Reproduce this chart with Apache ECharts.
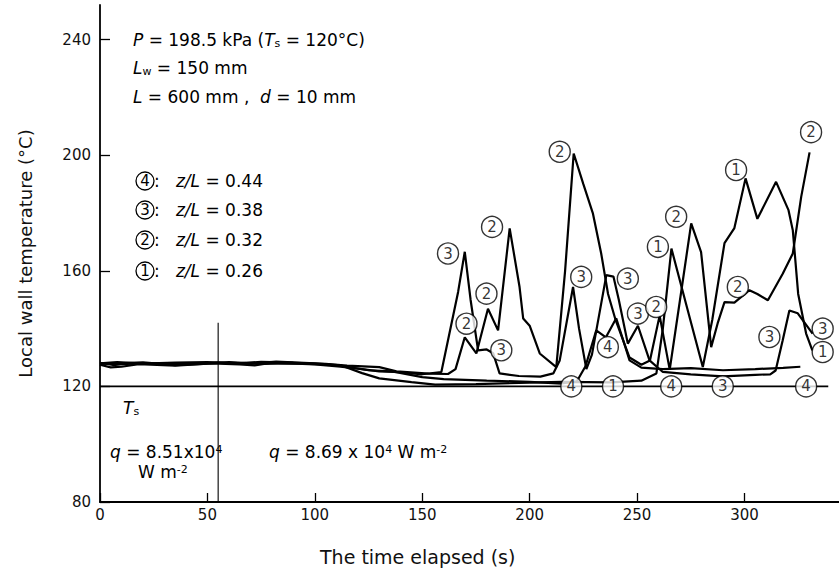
<!DOCTYPE html>
<html>
<head>
<meta charset="utf-8">
<script src="https://cdn.jsdelivr.net/npm/echarts@6/dist/echarts.min.js"></script>
<style>
html, body { margin: 0; padding: 0; background: #fff; }
#main { width: 839px; height: 574px; }
</style>
</head>
<body>
<div id="main"></div>
<script>
// wall temperature traces [time s, temp °C], one per thermocouple position
const curveZ026 = [[0,128.2],[6,127.4],[12,127.8],[25,128],[40,127.9],[55,128.3],[70,127.9],[82,128.6],[100,128],[112,127.3],[122,124.6],[130,122.8],[145,121.5],[156,120.6],[175,120.8],[195,121.2],[215,121.6],[238,121.4],[252,122],[259,124.5],[262,140],[266,167.7],[273,148],[280.6,126.7],[285,143],[290.7,169.6],[295.3,174.8],[300.5,192],[306,178],[314.7,190.8],[320.5,181],[322.5,174],[325,152],[328.7,138.3],[331.6,132.5]];
const curveZ032 = [[0,128],[8,128.4],[20,127.9],[35,128.2],[50,128.4],[62,127.9],[75,128.5],[90,128.2],[105,127.8],[115,127.2],[130,126.7],[138,125.2],[153,124.4],[162,124.3],[165.5,126],[169.8,137],[175.2,131.4],[180.6,146.9],[185.3,139.4],[190.7,174.7],[195.3,154.4],[197,143.5],[200,141],[204.7,131.4],[212.4,126.7],[216.5,160],[220.5,200.6],[225,190],[229.4,180],[233.3,166],[236.5,152],[240,143],[246.5,130],[252,127.5],[256,129],[260.5,144.5],[265.2,125.8],[270,150],[275.2,176.4],[279.8,166.5],[284.5,133.6],[287.5,141.8],[290.7,149.2],[295.3,149],[302.3,153.3],[306,152],[310.9,149.8],[317.8,159],[322.5,166],[326.4,185.6],[330.3,201]];
const curveZ038 = [[0,127.5],[5,126.6],[10,126.8],[18,127.7],[35,127.2],[52,128],[65,127.6],[72,127.3],[80,128.2],[100,127.6],[112,126.8],[122,126],[130,125.2],[140,124.9],[150,124.2],[158.9,125],[166.7,152.7],[169.8,166.6],[172.5,150],[176,132.5],[180,132.8],[183,131.5],[186,124.5],[195,123.6],[205,123.4],[211,124.5],[214,129],[220.2,154.4],[223,140],[226.4,126],[229,131],[235.7,158.5],[239,158],[241.5,150],[245.7,134.8],[250.4,141],[255.8,129],[262,125],[275,124.2],[290,123.5],[305,124],[312,124.2],[314.5,125.5],[317.8,136],[320.9,146.3],[324.8,145.3],[331.7,138.3]];
const curveZ044 = [[0,127.8],[8,128],[20,128.3],[35,127.4],[50,127.9],[60,128.4],[75,127.8],[90,128],[105,127.6],[115,126.8],[125,125.6],[136,125.2],[150,123.2],[160,122.5],[180,122],[200,121.6],[215,121],[222,121.8],[226,127],[231,139.4],[235.5,137],[240.3,143.6],[246.5,129],[252,126.5],[262,126],[275,126.3],[290,125.6],[305,126],[318,126.4],[326,126.8]];

// saturation temperature line and heat flux change
const satLine = [[0,120],[339,120]];
const fluxStep = [[55,80],[55,142]];

// circled curve numbers [time, temp, number]
const curveTags = [
  [162,166,'3'],[182.5,175.2,'2'],[179.9,152.1,'2'],[170.6,141.7,'2'],[186.8,132.5,'3'],
  [214,201.2,'2'],[224,157.9,'3'],[245.7,157.3,'3'],[236.4,133.6,'4'],[250.4,145.2,'3'],
  [258.9,147.5,'2'],[259.7,168.3,'1'],[268.2,178.7,'2'],[296.1,194.9,'1'],[296.9,154.4,'2'],
  [311.6,137.1,'3'],[336.4,140,'3'],[336.4,131.9,'1'],[331,208,'2'],
  [219.4,120,'4'],[238.8,120,'1'],[265.9,120,'4'],[289.9,120,'3'],[328.7,120,'4']
];

const xTicks = [0,50,100,150,200,250,300];
const yTicks = [80,120,160,200,240];

var font = 'DejaVu Sans';
var ink = '#000';
var myChart = echarts.init(document.getElementById('main'), null, { renderer: 'svg' });

function trace(data) {
  return {
    type: 'line',
    data: data,
    symbol: 'none',
    lineStyle: { color: ink, width: 2.2 },
    z: 3
  };
}

var richText = {
  i: { fontStyle: 'italic', fontSize: 17, fontFamily: font, color: ink },
  sub: { fontSize: 11, fontFamily: font, verticalAlign: 'bottom', color: ink },
  sup: { fontSize: 11, fontFamily: font, verticalAlign: 'top', color: ink },
  c: { width: 18, height: 18, lineHeight: 18, align: 'center', borderRadius: 9, borderColor: ink, borderWidth: 1.3, fontSize: 15, fontFamily: font, color: ink }
};

function note(x, y, text) {
  return {
    type: 'text',
    x: x,
    y: y,
    style: {
      text: text,
      fontSize: 17,
      fontFamily: font,
      fill: ink,
      verticalAlign: 'middle',
      rich: richText
    }
  };
}

var option = {
  animation: false,
  backgroundColor: '#fff',
  grid: { left: 100, right: 0, top: 5, bottom: 72, outerBoundsMode: 'none' },
  xAxis: {
    type: 'value',
    min: 0,
    max: 344,
    axisLine: { lineStyle: { color: ink, width: 1.8 } },
    axisTick: { show: true, inside: true, length: 9, customValues: xTicks, lineStyle: { color: ink, width: 1.3 } },
    axisLabel: { customValues: xTicks, color: '#111', fontSize: 15, fontFamily: font, margin: 5 },
    splitLine: { show: false }
  },
  yAxis: {
    type: 'value',
    min: 80,
    max: 252,
    name: 'Local wall temperature (°C)',
    nameLocation: 'middle',
    nameGap: 66,
    nameTextStyle: { color: '#111', fontSize: 18, fontFamily: font },
    axisLine: { show: true, lineStyle: { color: ink, width: 1.8 } },
    // negative length turns the ticks towards the plot area
    axisTick: { show: true, inside: false, length: -10, customValues: yTicks, lineStyle: { color: ink, width: 1.3 } },
    axisLabel: { customValues: yTicks, color: '#111', fontSize: 15, fontFamily: font, margin: 9 },
    splitLine: { show: false }
  },
  graphic: [
    note(133, 40, '{i|P} = 198.5 kPa ({i|T}{sub|s} = 120°C)'),
    note(133, 68, '{i|L}{sub|w} = 150 mm'),
    note(133, 97, '{i|L} = 600 mm ,  {i|d} = 10 mm'),
    note(136, 181, '{c|4}:   {i|z/L} = 0.44'),
    note(136, 210, '{c|3}:   {i|z/L} = 0.38'),
    note(136, 240, '{c|2}:   {i|z/L} = 0.32'),
    note(136, 271, '{c|1}:   {i|z/L} = 0.26'),
    note(123, 408, '{i|T}{sub|s}'),
    note(110, 452, '{i|q} = 8.51x10{sup|4}'),
    note(138, 472, 'W m{sup|-2}'),
    note(269, 452, '{i|q} = 8.69 x 10{sup|4} W m{sup|-2}'),
    {
      type: 'text',
      x: 320,
      y: 557,
      style: { text: 'The time elapsed (s)', fontSize: 19, fontFamily: font, fill: '#111', verticalAlign: 'middle' }
    }
  ],
  series: [
    trace(curveZ026),
    trace(curveZ032),
    trace(curveZ038),
    trace(curveZ044),
    {
      type: 'line',
      data: satLine,
      symbol: 'none',
      lineStyle: { color: ink, width: 1.8 },
      z: 2
    },
    {
      type: 'line',
      data: fluxStep,
      symbol: 'none',
      lineStyle: { color: ink, width: 1.1 },
      z: 2
    },
    {
      type: 'scatter',
      data: curveTags.map(function (d) { return { value: [d[0], d[1]], name: d[2] }; }),
      symbol: 'circle',
      symbolSize: 21,
      itemStyle: { color: '#fff', borderColor: ink, borderWidth: 1.4 },
      label: {
        show: true,
        position: 'inside',
        formatter: function (p) { return p.name; },
        color: ink,
        fontSize: 15,
        fontFamily: font
      },
      z: 5
    }
  ]
};

myChart.setOption(option);
</script>
</body>
</html>
